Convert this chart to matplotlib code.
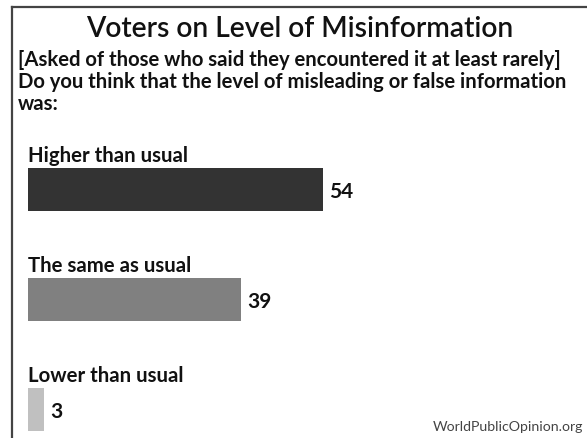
import matplotlib
matplotlib.use("Agg")
import matplotlib.pyplot as plt
from matplotlib.lines import Line2D

categories = ["Higher than usual", "The same as usual", "Lower than usual"]
values = [54, 39, 3]
colors = ["#333333", "#808080", "#c0c0c0"]
title = "Voters on Level of Misinformation"
subtitle = ["[Asked of those who said they encountered it at least rarely]",
            "Do you think that the level of misleading or false information",
            "was:"]
source = "WorldPublicOpinion.org"

W, H = 587, 438
fig = plt.figure(figsize=(W / 100, H / 100), dpi=100)
fig.patch.set_facecolor("white")
FONT = "Lato"

# border (top and left)
fig.add_artist(Line2D([12 / W, 1], [1 - 7 / H, 1 - 7 / H], color="#444444", lw=1.6))
fig.add_artist(Line2D([12 / W, 12 / W], [0, 1 - 7 / H], color="#444444", lw=1.6))

fig.text(300 / W, 1 - 37 / H, title, ha="center", va="baseline",
         fontsize=20.3, family=FONT, fontweight="semibold", color="#111111")
for i, line in enumerate(subtitle):
    fig.text(18 / W, 1 - (66 + 22 * i) / H, line, ha="left", va="baseline",
             fontsize=14.6, family=FONT, fontweight="bold", color="#111111")

ax = fig.add_axes([28 / W, 0, 546 / W, 303.5 / H])
ax.set_xlim(0, 100)
ax.set_ylim(-0.5 + 303.5 / 110, -0.5)
ax.axis("off")
bh = 43 / 110
ypos = list(range(len(categories)))
ax.barh(ypos, values, height=bh, color=colors, edgecolor="none")
for y, cat, v in zip(ypos, categories, values):
    ax.annotate(cat, (0, y - bh / 2), xytext=(0, 6), textcoords="offset pixels",
                ha="left", va="baseline", fontsize=14.7, family=FONT,
                fontweight="bold", color="#111111")
    ax.annotate(str(v), (v, y), xytext=(6, 0), textcoords="offset pixels",
                ha="left", va="center_baseline", fontsize=15, family=FONT,
                fontweight="bold", color="#111111")

fig.text(583 / W, 1 - 431 / H, source, ha="right", va="baseline",
         fontsize=10.2, family=FONT, color="#444444")

fig.savefig("out.png", dpi=100, facecolor="white")
